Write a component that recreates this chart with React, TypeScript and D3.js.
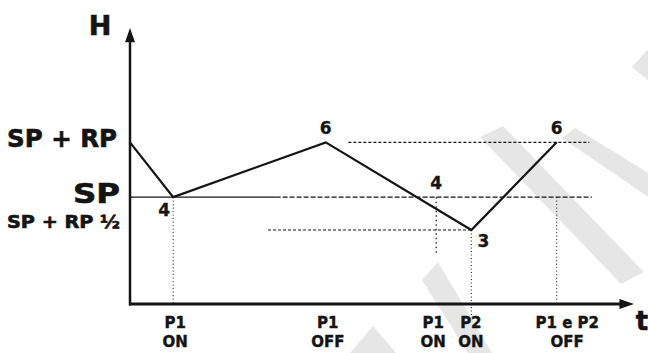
import React from 'react'
import * as d3 from 'd3'

// levels on the H axis
const SP_RP = 5.9
const SP = 3.9
const SP_HALF = 2.7

// curve vertices: time, humidity
const curveT = [0, 0.86, 3.9, 6.8, 8.5]
const curveH = [SP_RP, SP, SP_RP, SP_HALF, SP_RP]

// numbered markers on the curve
const markText = ['4', '6', '4', '3', '6']
const markT = [0.86, 3.9, 6.1, 6.8, 8.5]
const markH = [SP, SP_RP, SP, SP_HALF, SP_RP]

// y axis labels
const yLabels = ['SP + RP', 'SP', 'SP + RP ½']
const yLabelH = [SP_RP, SP, SP_HALF]

// x axis event labels
const xTop = ['P1', 'P1', 'P1', 'P2', 'P1 e P2']
const xBottom = ['ON', 'OFF', 'ON', 'ON', 'OFF']
const xLabelT = [0.9, 3.94, 6.04, 6.79, 8.71]

// watermark bands (decoration)
const watermark = [
  [[480, 137], [503, 126], [644, 272], [621, 284]],
  [[562, 138], [575, 128], [660, 180], [660, 205]],
  [[632, 67], [647, 50], [660, 62], [660, 90]],
  [[422, 280], [438, 262], [492, 353], [468, 353]],
  [[350, 353], [373, 326], [396, 353]],
]

const W = 648
const H = 353
const font = '"DejaVu Sans", sans-serif'
const ink = '#141414'

export default function App() {
  const x = d3.scaleLinear().domain([0, 10]).range([130, 632])
  const y = d3.scaleLinear().domain([0, 10]).range([304, 30])

  const line = d3.line<number>()
    .x(i => x(curveT[i]))
    .y(i => y(curveH[i]))

  const y0 = y(0)
  const x0 = x(0)

  return (
    <svg width={W} height={H} style={{ position: 'absolute', left: 0, top: 0, background: '#fff' }}>
      {watermark.map((p, i) => (
        <polygon key={i} points={p.map(q => q.join(',')).join(' ')} fill="#e6e6e6" />
      ))}

      {/* guide lines */}
      <line x1={x0} x2={x(2.9)} y1={y(SP)} y2={y(SP)} stroke={ink} strokeWidth={1.2} />
      <line x1={x(2.9)} x2={x(9.2)} y1={y(SP)} y2={y(SP)} stroke={ink} strokeWidth={1.2} strokeDasharray="5,2" />
      <line x1={x(4.35)} x2={x(9.15)} y1={y(SP_RP)} y2={y(SP_RP)} stroke={ink} strokeWidth={1.2} strokeDasharray="3,2" />
      <line x1={x(2.75)} x2={x(6.8)} y1={y(SP_HALF)} y2={y(SP_HALF)} stroke={ink} strokeWidth={1.2} strokeDasharray="3,2" />

      <line x1={x(0.86)} x2={x(0.86)} y1={y(SP)} y2={y0} stroke={ink} strokeWidth={1} strokeDasharray="1,2.5" />
      <line x1={x(6.1)} x2={x(6.1)} y1={y(SP)} y2={y(1.86)} stroke={ink} strokeWidth={1.2} strokeDasharray="1.5,3" />
      <line x1={x(6.8)} x2={x(6.8)} y1={y(SP_HALF)} y2={y(-0.5)} stroke={ink} strokeWidth={1} strokeDasharray="1,2.5" />
      <line x1={x(8.5)} x2={x(8.5)} y1={y(SP)} y2={y(0.15)} stroke={ink} strokeWidth={1} strokeDasharray="1,2.5" />

      {/* curve */}
      <path d={line(d3.range(curveT.length)) || ''} fill="none" stroke={ink} strokeWidth={2.2} strokeLinejoin="miter" />

      {/* axes */}
      <line x1={x0} x2={x0} y1={y0 + 1.5} y2={y(9.6)} stroke={ink} strokeWidth={2.5} />
      <line x1={x0 - 1} x2={x(9.8)} y1={y0} y2={y0} stroke={ink} strokeWidth={2.8} />
      <path d={`M${x0},${y(10) - 2} L${x0 - 5},${y(9.55)} L${x0 + 5},${y(9.55)} Z`} fill={ink} />
      <path d={`M${x(10) + 2},${y0} L${x(9.75)},${y0 - 5} L${x(9.75)},${y0 + 5} Z`} fill={ink} />

      <g stroke={ink} strokeWidth={0.6} fill={ink} fontFamily={font} fontWeight="bold">
        <text x={100} y={35} textAnchor="middle" fontSize={27}>H</text>
        <text x={642} y={330} textAnchor="middle" fontSize={26}>t</text>

        {yLabels.map((s, i) => {
          const small = i === 2
          const len = i === 0 ? 110 : i === 1 ? 47 : 113
          return (
            <text key={s} x={i === 1 ? 73 : 7} y={y(yLabelH[i]) + (i === 0 ? 5 : i === 1 ? 6 : -2)}
              fontSize={small ? 17 : i === 1 ? 26 : 24}
              textLength={len} lengthAdjust="spacingAndGlyphs">{s}</text>
          )
        })}

        {markText.map((s, i) => {
          const dx = i === 0 ? -9 : i === 3 ? 12 : 0
          const dy = i === 0 ? 19 : i === 3 ? 17 : -8
          return (
            <text key={i} x={x(markT[i]) + dx} y={y(markH[i]) + dy} textAnchor="middle"
              fontSize={17} strokeWidth={0.3}>{s}</text>
          )
        })}

        {xTop.map((s, i) => (
          <g key={i} fontSize={15} textAnchor="middle" strokeWidth={0.4}>
            <text x={x(xLabelT[i])} y={y0 + 24}>{s}</text>
            <text x={x(xLabelT[i])} y={y0 + 43}>{xBottom[i]}</text>
          </g>
        ))}
      </g>
    </svg>
  )
}
